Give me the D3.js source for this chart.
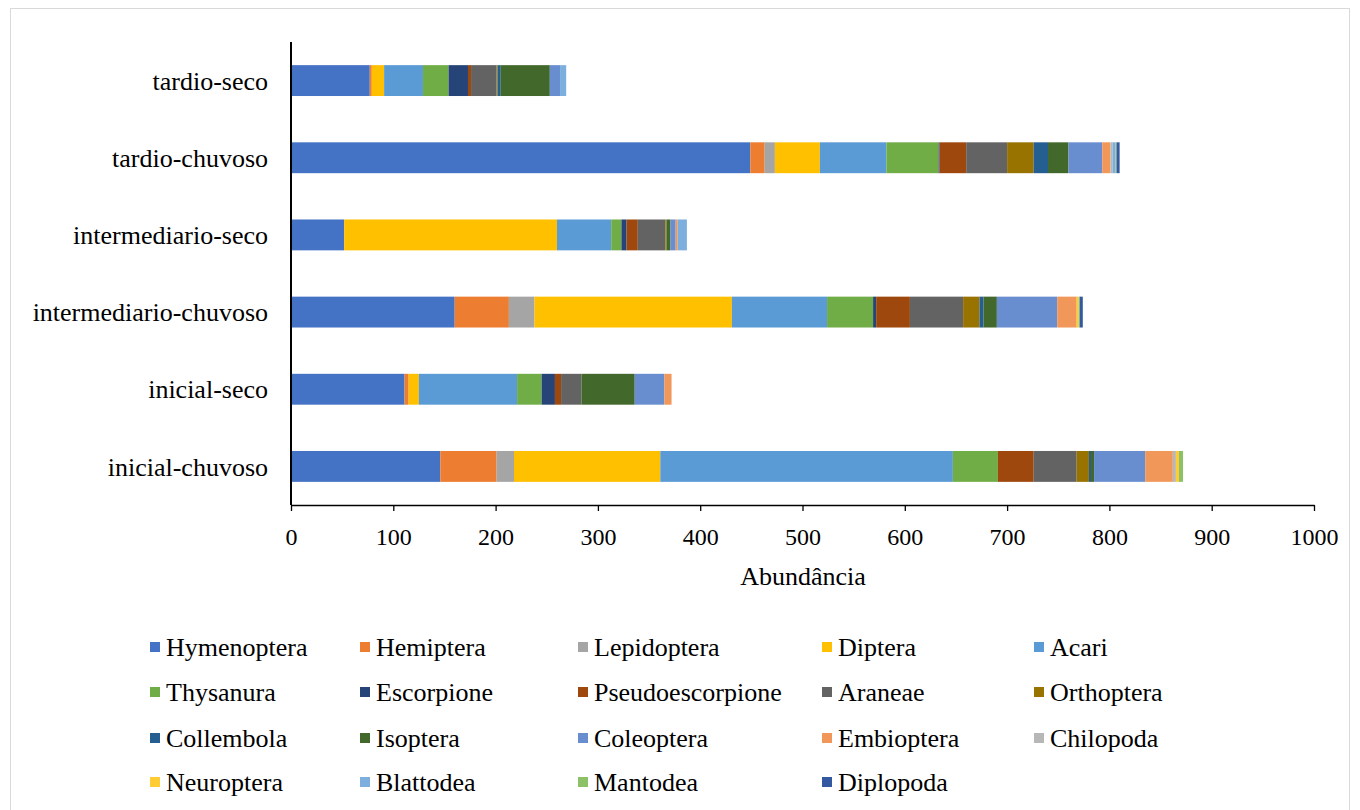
<!DOCTYPE html>
<html>
<head>
<meta charset="utf-8">
<script src="https://cdn.jsdelivr.net/npm/d3@7"></script>
<style>
  html, body { margin: 0; padding: 0; background: #fff; }
  svg text { font-family: "Liberation Serif", "Times New Roman", serif; fill: #000; }
</style>
</head>
<body>
<svg id="chart" width="1360" height="810"></svg>
<script>
// Categories, top to bottom
const categories = ["tardio-seco", "tardio-chuvoso", "intermediario-seco",
  "intermediario-chuvoso", "inicial-seco", "inicial-chuvoso"];

const taxa = ["Hymenoptera", "Hemiptera", "Lepidoptera", "Diptera", "Acari",
  "Thysanura", "Escorpione", "Pseudoescorpione", "Araneae", "Orthoptera",
  "Collembola", "Isoptera", "Coleoptera", "Embioptera", "Chilopoda",
  "Neuroptera", "Blattodea", "Mantodea", "Diplopoda"];

const taxaColors = ["#4472C4", "#ED7D31", "#A5A5A5", "#FFC000", "#5B9BD5",
  "#70AD47", "#264478", "#9E480E", "#636363", "#997300",
  "#255E91", "#43682B", "#698ED0", "#F1975A", "#B7B7B7",
  "#FFCD33", "#7CAFDD", "#8CC168", "#335AA1"];

// Abundance per taxon (same order as taxa) for each category
const tardioSeco          = [77, 2, 0, 12, 38, 25, 19, 3, 25, 1, 3, 48, 10, 0, 0, 0, 6, 0, 0];
const tardioChuvoso       = [449, 14, 10, 44, 65, 51, 1, 26, 40, 26, 14, 20, 33, 8, 2, 0, 3, 1, 3];
const intermediarioSeco   = [52, 0, 0, 208, 53, 10, 5, 11, 27, 1, 0, 4, 5, 2, 0, 0, 9, 0, 0];
const intermediarioChuvoso= [160, 53, 25, 193, 93, 45, 3, 33, 52, 16, 4, 13, 59, 19, 0, 2, 0, 1, 3];
const inicialSeco         = [111, 4, 0, 10, 96, 24, 13, 6, 20, 0, 0, 52, 29, 7, 0, 0, 0, 0, 0];
const inicialChuvoso      = [146, 55, 17, 143, 286, 44, 0, 35, 42, 12, 2, 3, 50, 27, 3, 3, 0, 4, 0];

const xTicks = [0, 100, 200, 300, 400, 500, 600, 700, 800, 900, 1000];
const xTitle = "Abundância";

const seriesByCategory = [tardioSeco, tardioChuvoso, intermediarioSeco,
  intermediarioChuvoso, inicialSeco, inicialChuvoso];

const rows = categories.map((c, i) => {
  const r = { category: c };
  taxa.forEach((t, j) => { r[t] = seriesByCategory[i][j]; });
  return r;
});

const svg = d3.select("#chart");

// Outer chart frame
svg.append("rect")
  .attr("x", 10.5).attr("y", 8.5)
  .attr("width", 1339).attr("height", 820)
  .attr("fill", "none").attr("stroke", "#d9d9d9").attr("stroke-width", 1);

const x = d3.scaleLinear().domain([0, 1000]).range([291, 1314]);
const y = d3.scaleBand().domain(categories).range([42, 505])
  .paddingInner(0.6).paddingOuter(0.3);
const color = d3.scaleOrdinal().domain(taxa).range(taxaColors);

const stack = d3.stack().keys(taxa);
const layers = stack(rows);

svg.append("g").selectAll("g")
  .data(layers)
  .join("g")
  .attr("fill", d => color(d.key))
  .selectAll("rect")
  .data(d => d.map(p => ({ p, cat: p.data.category })))
  .join("rect")
  .attr("x", d => x(d.p[0]))
  .attr("y", d => y(d.cat))
  .attr("width", d => Math.max(0, x(d.p[1]) - x(d.p[0])))
  .attr("height", y.bandwidth());

// X axis
const xAxis = svg.append("g")
  .attr("transform", "translate(0,505)")
  .call(d3.axisBottom(x).tickValues(xTicks).tickFormat(d3.format("d"))
    .tickSize(6).tickSizeOuter(0).tickPadding(17));
xAxis.select(".domain").attr("stroke", "#000").attr("stroke-width", 1.3);
xAxis.selectAll(".tick line").attr("stroke", "#000").attr("stroke-width", 1.3);
xAxis.selectAll("text").attr("font-size", 24)
  .style("font-family", "'Liberation Serif', 'Times New Roman', serif");

// Y axis line
svg.append("line")
  .attr("x1", 291).attr("x2", 291)
  .attr("y1", 42).attr("y2", 505)
  .attr("stroke", "#000").attr("stroke-width", 2);

// Category labels
svg.append("g").selectAll("text")
  .data(categories)
  .join("text")
  .attr("x", 268)
  .attr("y", d => y(d) + y.bandwidth() / 2)
  .attr("dy", "0.35em")
  .attr("text-anchor", "end")
  .attr("font-size", 26)
  .text(d => d);

// X axis title
svg.append("text")
  .attr("x", 803).attr("y", 585)
  .attr("text-anchor", "middle")
  .attr("font-size", 26)
  .text(xTitle);

// Legend: 5 columns, 4 rows
const legendCols = [150, 360, 578, 822, 1034];
const legendRows = [647, 692, 738, 782];
const legend = svg.append("g").selectAll("g")
  .data(taxa)
  .join("g")
  .attr("transform", (d, i) => `translate(${legendCols[i % 5]},${legendRows[Math.floor(i / 5)]})`);
legend.append("rect")
  .attr("x", 0).attr("y", -5)
  .attr("width", 10).attr("height", 10)
  .attr("fill", d => color(d));
legend.append("text")
  .attr("x", 16).attr("y", 0)
  .attr("dy", "0.35em")
  .attr("font-size", 26)
  .text(d => d);
</script>
</body>
</html>
